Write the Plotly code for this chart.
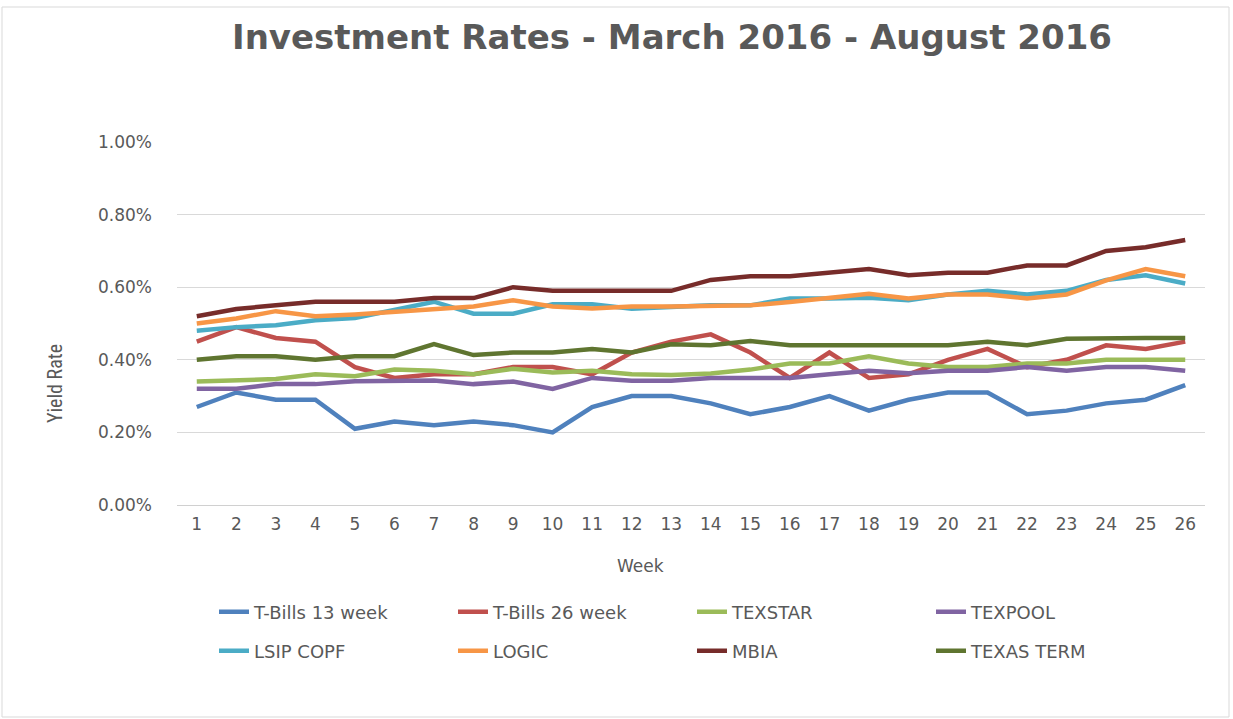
import plotly.graph_objects as go

weeks = list(range(1, 27))

tbills13 = [0.27, 0.31, 0.29, 0.29, 0.21, 0.23, 0.22, 0.23, 0.22, 0.20, 0.27, 0.30, 0.30,
            0.28, 0.25, 0.27, 0.30, 0.26, 0.29, 0.31, 0.31, 0.25, 0.26, 0.28, 0.29, 0.33]
tbills26 = [0.45, 0.49, 0.46, 0.45, 0.38, 0.35, 0.36, 0.36, 0.38, 0.38, 0.36, 0.42, 0.45,
            0.47, 0.42, 0.35, 0.42, 0.35, 0.36, 0.40, 0.43, 0.38, 0.40, 0.44, 0.43, 0.45]
texstar = [0.34, 0.342, 0.347, 0.36, 0.355, 0.373, 0.37, 0.36, 0.375, 0.365, 0.37, 0.36, 0.358,
           0.362, 0.373, 0.39, 0.39, 0.41, 0.39, 0.38, 0.38, 0.39, 0.39, 0.40, 0.40, 0.40]
texpool = [0.32, 0.32, 0.333, 0.333, 0.341, 0.343, 0.343, 0.333, 0.34, 0.32, 0.35, 0.342, 0.342,
           0.35, 0.35, 0.35, 0.36, 0.37, 0.363, 0.37, 0.37, 0.38, 0.37, 0.38, 0.38, 0.37]
lsip_copf = [0.48, 0.49, 0.495, 0.509, 0.515, 0.536, 0.56, 0.527, 0.527, 0.553, 0.553, 0.541, 0.547,
             0.55, 0.55, 0.569, 0.569, 0.571, 0.564, 0.58, 0.59, 0.58, 0.59, 0.62, 0.633, 0.61]
logic = [0.50, 0.514, 0.534, 0.52, 0.525, 0.532, 0.538, 0.547, 0.564, 0.547, 0.541, 0.547, 0.547,
         0.55, 0.55, 0.559, 0.569, 0.582, 0.569, 0.58, 0.58, 0.569, 0.58, 0.619, 0.65, 0.63]
mbia = [0.52, 0.54, 0.55, 0.56, 0.56, 0.56, 0.57, 0.57, 0.60, 0.59, 0.59, 0.59, 0.59,
        0.62, 0.63, 0.63, 0.64, 0.65, 0.633, 0.64, 0.64, 0.66, 0.66, 0.70, 0.71, 0.73]
texas_term = [0.40, 0.41, 0.41, 0.40, 0.41, 0.41, 0.443, 0.413, 0.42, 0.42, 0.43, 0.42, 0.443,
              0.44, 0.452, 0.44, 0.44, 0.44, 0.44, 0.44, 0.45, 0.44, 0.458, 0.46, 0.46, 0.46]

series_names = ["T-Bills 13 week", "T-Bills 26 week", "TEXSTAR", "TEXPOOL",
                "LSIP COPF", "LOGIC", "MBIA", "TEXAS TERM"]
series_values = [tbills13, tbills26, texstar, texpool, lsip_copf, logic, mbia, texas_term]
series_colors = ["#4F81BD", "#C0504D", "#9BBB59", "#8064A2",
                 "#4BACC6", "#F79646", "#772C2A", "#5F7530"]
legend_ids = ["legend", "legend", "legend", "legend", "legend2", "legend2", "legend2", "legend2"]

y_ticks = [0, 0.002, 0.004, 0.006, 0.008, 0.010]

W, H = 1233, 719
L, R, T, B = 177, 28, 142, 214
pw, ph = W - L - R, H - T - B

GRAY = "#595959"
FONT = "DejaVu Sans, Verdana, sans-serif"

fig = go.Figure()
for name, vals, col, lg in zip(series_names, series_values, series_colors, legend_ids):
    fig.add_trace(go.Scatter(
        x=weeks, y=[v / 100 for v in vals], mode="lines", name=name,
        line=dict(color=col, width=4.5), legend=lg,
    ))

legend_common = dict(
    orientation="h", xref="container", yref="container",
    xanchor="left", yanchor="middle",
    font=dict(family=FONT, size=18, color=GRAY),
    entrywidth=194, entrywidthmode="pixels",
    bgcolor="rgba(0,0,0,0)", itemwidth=30,
    traceorder="normal",
)

fig.update_layout(
    width=W, height=H,
    margin=dict(l=L, r=R, t=T, b=B),
    paper_bgcolor="white", plot_bgcolor="white",
    title=dict(text="<b>Investment Rates - March 2016 - August 2016</b>",
               x=672 / W, xanchor="center", y=1 - 37 / H, yanchor="middle",
               xref="container", yref="container",
               font=dict(family=FONT, size=34, color=GRAY)),
    legend=dict(x=214 / W, y=(H - 612) / H, **legend_common),
    legend2=dict(x=214 / W, y=(H - 651) / H, **legend_common),
    xaxis=dict(range=[0.5, 26.5], tickmode="array", tickvals=weeks,
               ticktext=[str(w) for w in weeks], showgrid=False,
               showline=True, linecolor="#D0D0D0", linewidth=1, zeroline=False,
               tickfont=dict(family=FONT, size=17, color=GRAY),
               ticks="", ticklabelstandoff=4),
    yaxis=dict(range=[0, 0.01], tickmode="array", tickvals=y_ticks,
               tickformat=".2%", showgrid=True, gridcolor="#D9D9D9", gridwidth=1,
               zeroline=False, showline=False, ticks="",
               tickfont=dict(family=FONT, size=17, color=GRAY),
               ticklabelstandoff=24),
    annotations=[
        dict(text="Week", xref="paper", yref="paper",
             x=(640 - L) / pw, y=-(566 - (T + ph)) / ph, xanchor="center", yanchor="middle",
             showarrow=False, font=dict(family=FONT, size=17, color=GRAY)),
        dict(text="Yield Rate", xref="paper", yref="paper", textangle=-90,
             x=(55 - L) / pw, y=1 - (384 - T) / ph, xanchor="center", yanchor="middle",
             showarrow=False,
             font=dict(family="Liberation Sans Narrow, Roboto Condensed, Liberation Sans",
                       size=20, color=GRAY)),
    ],
    shapes=[dict(type="rect", xref="paper", yref="paper",
                 x0=(2 - L) / pw, x1=(1229 - L) / pw,
                 y0=-(717 - (T + ph)) / ph, y1=1 + (T - 7) / ph,
                 line=dict(color="#D9D9D9", width=1), fillcolor="rgba(0,0,0,0)",
                 layer="below")],
    showlegend=True,
)

fig.write_html("out.html", config={"displayModeBar": False},
               post_script="document.body.style.margin='0';document.body.style.padding='0';")
